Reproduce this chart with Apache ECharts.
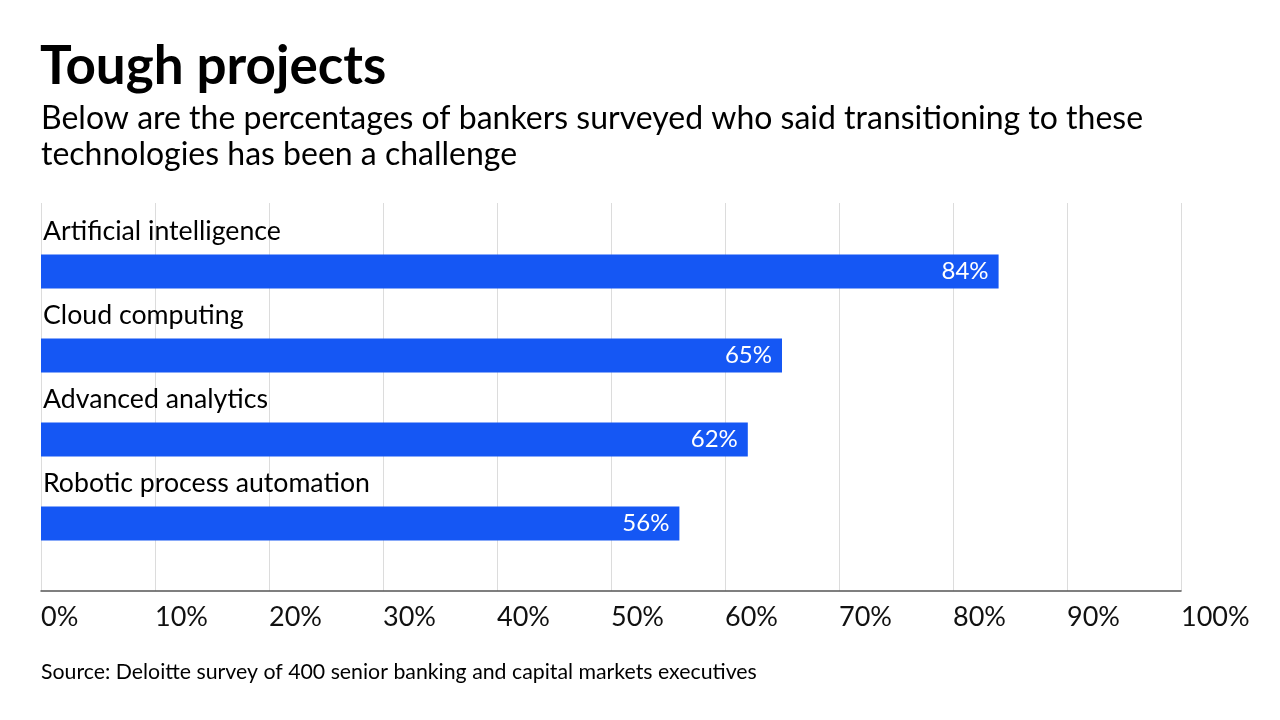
<!DOCTYPE html>
<html>
<head>
<meta charset="utf-8">
<script src="https://cdn.jsdelivr.net/npm/echarts@6/dist/echarts.min.js"></script>
<style>
html,body{margin:0;padding:0;background:#fff;}
#chart{width:1280px;height:720px;}
</style>
</head>
<body>
<div id="chart"></div>
<script>
const categories = ['Artificial intelligence', 'Cloud computing', 'Advanced analytics', 'Robotic process automation'];
const values = [84, 65, 62, 56];
const tickLabels = ['0%', '10%', '20%', '30%', '40%', '50%', '60%', '70%', '80%', '90%', '100%'];

const FONT = 'Lato, "Open Sans", sans-serif';
const BLUE = '#1557F4';

const chart = echarts.init(document.getElementById('chart'), null, {renderer: 'canvas'});
chart.setOption({
  backgroundColor: '#ffffff',
  animation: false,
  title: [
    {text: 'Tough projects', left: 40, top: 40, padding: 0,
     textStyle: {fontFamily: FONT, fontWeight: 'bold', fontSize: 53, lineHeight: 53, color: '#000'}},
    {text: 'Below are the percentages of bankers surveyed who said transitioning to these\ntechnologies has been a challenge', left: 41, top: 101, padding: 0,
     textStyle: {fontFamily: FONT, fontWeight: 'normal', fontSize: 32, lineHeight: 36, color: '#000'}},
    {text: 'Source: Deloitte survey of 400 senior banking and capital markets executives', left: 41, top: 661, padding: 0,
     textStyle: {fontFamily: FONT, fontWeight: 'normal', fontSize: 21.3, lineHeight: 22, color: '#000'}}
  ],
  grid: [
    {left: 41, right: 99, top: 203, bottom: 129, containLabel: false},
    {left: 41, right: 99, top: 229.5, bottom: 154.5, containLabel: false}
  ],
  xAxis: [
    {gridIndex: 0, type: 'value', min: 0, max: 100, interval: 10,
     axisLine: {show: true, lineStyle: {color: '#555', width: 1.5}},
     axisTick: {show: false},
     splitLine: {show: true, lineStyle: {color: '#dcdcdc', width: 1}},
     axisLabel: {show: true, align: 'left', margin: 13, fontFamily: FONT, fontSize: 27, color: '#111',
       formatter: function (v) { return tickLabels[Math.round(v / 10)]; }}},
    {gridIndex: 1, type: 'value', min: 0, max: 100, show: false}
  ],
  yAxis: [
    {gridIndex: 0, type: 'value', min: 0, max: 1, show: false},
    {gridIndex: 1, type: 'category', data: categories, inverse: true, show: false}
  ],
  series: [
    {type: 'bar', xAxisIndex: 1, yAxisIndex: 1, data: values, barWidth: 34,
     itemStyle: {color: BLUE},
     label: {show: true, position: 'insideRight', distance: 10, formatter: '{c}%',
       fontFamily: FONT, fontSize: 24, color: '#fff'}},
    {type: 'bar', xAxisIndex: 1, yAxisIndex: 1, data: values, barWidth: 34, barGap: '-100%',
     itemStyle: {color: 'rgba(0,0,0,0)'}, silent: true,
     label: {show: true, position: [2, -37], formatter: '{b}',
       fontFamily: FONT, fontSize: 26.7, color: '#000'}}
  ]
});
</script>
</body>
</html>
